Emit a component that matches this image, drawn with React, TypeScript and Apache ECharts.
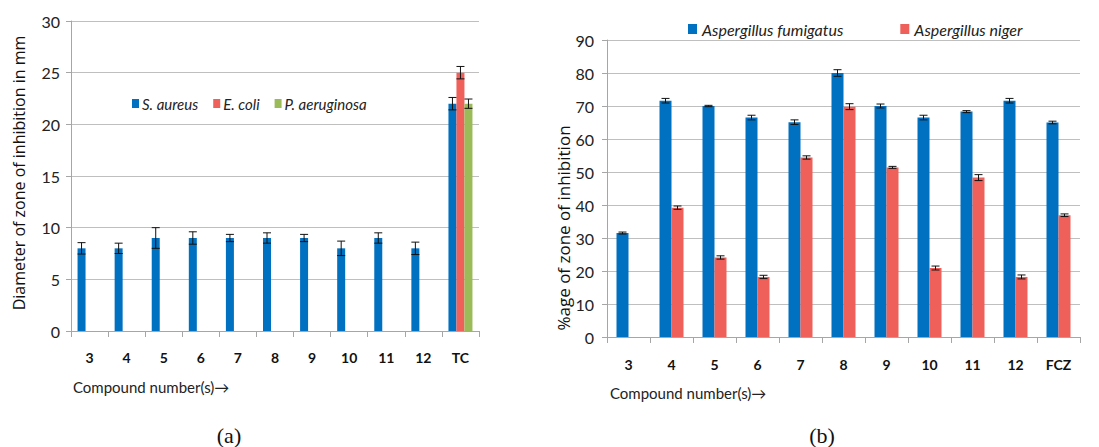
import React, { useEffect, useRef } from "react";
import * as echarts from "echarts";

// ---------- Data (a) ----------
const categoriesA = ["3", "4", "5", "6", "7", "8", "9", "10", "11", "12", "TC"];
const sAureus = [8, 8, 9, 9, 9, 9, 9, 8, 9, 8, 22];
const sAureusErr = [0.55, 0.5, 1.0, 0.6, 0.35, 0.5, 0.35, 0.7, 0.5, 0.6, 0.6];
const eColi = [null, null, null, null, null, null, null, null, null, null, 25];
const eColiErr = [null, null, null, null, null, null, null, null, null, null, 0.6];
const pAeruginosa = [null, null, null, null, null, null, null, null, null, null, 22];
const pAeruginosaErr = [null, null, null, null, null, null, null, null, null, null, 0.45];
const yTicksA = { min: 0, max: 30, interval: 5 };

// ---------- Data (b) ----------
const categoriesB = ["3", "4", "5", "6", "7", "8", "9", "10", "11", "12", "FCZ"];
const fumigatus = [31.5, 71.6, 70, 66.5, 65.1, 80, 70, 66.5, 68.3, 71.6, 65];
const fumigatusErr = [0.3, 0.7, 0.2, 0.7, 0.7, 1.0, 0.6, 0.7, 0.3, 0.7, 0.4];
const niger = [null, 39.2, 24.1, 18.2, 54.4, 69.8, 51.4, 20.9, 48.3, 18.2, 36.9];
const nigerErr = [null, 0.5, 0.5, 0.5, 0.5, 0.9, 0.3, 0.6, 0.9, 0.6, 0.4];
const yTicksB = { min: 0, max: 90, interval: 10 };

const BLUE = "#0070C0";
const RED = "#F0605A";
const GREEN = "#9BBB59";
const GRID = "#BFBFBF";
const AXIS = "#A6A6A6";
const HUM = "Lato, 'Liberation Sans', sans-serif";
const WIDE = "'Open Sans', 'Noto Sans', sans-serif";

function errData(vals: (number | null)[], errs: (number | null)[]) {
  const out: number[][] = [];
  vals.forEach((v, i) => {
    const e = errs[i];
    if (v != null && e != null) out.push([i, v - e, v + e]);
  });
  return out;
}

function errSeries(name: string, data: number[][], axis: number, offset: number, cap: number) {
  return {
    type: "custom",
    name: name + "-err",
    xAxisIndex: axis,
    yAxisIndex: axis,
    z: 10,
    silent: true,
    encode: { x: 0, y: [1, 2] },
    data,
    renderItem: (_params: any, api: any) => {
      const idx = api.value(0);
      const lo = api.coord([idx, api.value(1)]);
      const hi = api.coord([idx, api.value(2)]);
      const x = lo[0] + offset;
      const style = { stroke: "#111", lineWidth: 1 };
      return {
        type: "group",
        children: [
          { type: "line", shape: { x1: x, y1: lo[1], x2: x, y2: hi[1] }, style },
          { type: "line", shape: { x1: x - cap / 2, y1: hi[1], x2: x + cap / 2, y2: hi[1] }, style },
          { type: "line", shape: { x1: x - cap / 2, y1: lo[1], x2: x + cap / 2, y2: lo[1] }, style },
        ],
      };
    },
  };
}

export default function App() {
  const ref = useRef<HTMLDivElement>(null);

  useEffect(() => {
    if (!ref.current) return;
    const chart = echarts.init(ref.current, undefined, { renderer: "svg" });
    const bwA = 8;
    const bwB = 12;

    const xAxisCommon = (cats: string[], gridIndex: number, margin: number, size: number) => ({
      type: "category",
      gridIndex,
      data: cats,
      axisLine: { show: true, lineStyle: { color: AXIS, width: 1 } },
      axisTick: { show: true, alignWithLabel: false, length: 6, lineStyle: { color: AXIS } },
      axisLabel: {
        margin,
        color: "#111",
        fontFamily: HUM,
        fontWeight: "bold",
        fontSize: size,
        interval: 0,
      },
    });

    const yAxisCommon = (gridIndex: number, t: { min: number; max: number; interval: number }, margin: number) => ({
      type: "value",
      gridIndex,
      min: t.min,
      max: t.max,
      interval: t.interval,
      axisLine: { show: true, lineStyle: { color: AXIS, width: 1 } },
      axisTick: { show: true, length: 5, lineStyle: { color: AXIS } },
      splitLine: { show: true, lineStyle: { color: GRID, width: 1 } },
      axisLabel: { margin, color: "#222", fontFamily: HUM, fontSize: 16 },
    });

    const option: any = {
      animation: false,
      backgroundColor: "#fff",
      grid: [
        { left: 71, top: 21, width: 408, height: 310 },
        { left: 607, top: 40, width: 473, height: 297 },
      ],
      xAxis: [xAxisCommon(categoriesA, 0, 19, 14), xAxisCommon(categoriesB, 1, 20, 14)],
      yAxis: [yAxisCommon(0, yTicksA, 11), yAxisCommon(1, yTicksB, 13)],
      legend: [
        {
          data: ["S. aureus", "E. coli", "P. aeruginosa"],
          left: 132,
          top: 96,
          padding: 0,
          itemWidth: 7,
          itemHeight: 9,
          itemGap: 15,
          icon: "rect",
          textStyle: { fontFamily: HUM, fontStyle: "italic", fontSize: 15, color: "#222", padding: [0, 0, 0, -2] },
        },
        {
          data: ["Aspergillus fumigatus", "Aspergillus niger"],
          left: 688,
          top: 21,
          padding: 0,
          itemWidth: 9,
          itemHeight: 10,
          itemGap: 57,
          icon: "rect",
          textStyle: { fontFamily: HUM, fontStyle: "italic", fontSize: 16, color: "#222" },
        },
      ],
      series: [
        { type: "bar", name: "S. aureus", xAxisIndex: 0, yAxisIndex: 0, data: sAureus, barWidth: bwA, barGap: "0%", itemStyle: { color: BLUE } },
        { type: "bar", name: "E. coli", xAxisIndex: 0, yAxisIndex: 0, data: eColi, barWidth: bwA, barGap: "0%", itemStyle: { color: RED } },
        { type: "bar", name: "P. aeruginosa", xAxisIndex: 0, yAxisIndex: 0, data: pAeruginosa, barWidth: bwA, barGap: "0%", itemStyle: { color: GREEN } },
        { type: "bar", name: "Aspergillus fumigatus", xAxisIndex: 1, yAxisIndex: 1, data: fumigatus, barWidth: bwB, barGap: "0%", itemStyle: { color: BLUE } },
        { type: "bar", name: "Aspergillus niger", xAxisIndex: 1, yAxisIndex: 1, data: niger, barWidth: bwB, barGap: "0%", itemStyle: { color: RED } },
        errSeries("S. aureus", errData(sAureus, sAureusErr), 0, -bwA, 8),
        errSeries("E. coli", errData(eColi, eColiErr), 0, 0, 8),
        errSeries("P. aeruginosa", errData(pAeruginosa, pAeruginosaErr), 0, bwA, 8),
        errSeries("Aspergillus fumigatus", errData(fumigatus, fumigatusErr), 1, -bwB / 2, 8),
        errSeries("Aspergillus niger", errData(niger, nigerErr), 1, bwB / 2, 8),
      ],
      graphic: [
        {
          type: "text",
          x: 19,
          y: 173,
          rotation: Math.PI / 2,
          style: {
            text: "Diameter of zone of inhibition in mm",
            fontFamily: WIDE,
            fontSize: 16,
            fill: "#111",
            align: "center",
            verticalAlign: "middle",
          },
        },
        {
          type: "text",
          x: 563,
          y: 228,
          rotation: Math.PI / 2,
          style: {
            text: "%age of zone of inhibition",
            fontFamily: WIDE,
            fontSize: 17,
            fill: "#111",
            align: "center",
            verticalAlign: "middle",
          },
        },
        {
          type: "text",
          x: 73,
          y: 387,
          style: { text: "Compound number(s)→", fontFamily: HUM, fontSize: 15, fill: "#222", align: "left", verticalAlign: "middle" },
        },
        {
          type: "text",
          x: 610,
          y: 393,
          style: { text: "Compound number(s)→", fontFamily: HUM, fontSize: 15, fill: "#222", align: "left", verticalAlign: "middle" },
        },
        {
          type: "text",
          x: 229,
          y: 435,
          style: { text: "(a)", fontFamily: "'Liberation Serif', 'DejaVu Serif', serif", fontSize: 22, fill: "#111", align: "center", verticalAlign: "middle" },
        },
        {
          type: "text",
          x: 822,
          y: 435,
          style: { text: "(b)", fontFamily: "'Liberation Serif', 'DejaVu Serif', serif", fontSize: 22, fill: "#111", align: "center", verticalAlign: "middle" },
        },
      ],
    };
    chart.setOption(option);
    return () => chart.dispose();
  }, []);

  return (
    <div
      ref={ref}
      style={{ position: "absolute", left: 0, top: 0, width: 1099, height: 447, background: "#fff" }}
    />
  );
}
